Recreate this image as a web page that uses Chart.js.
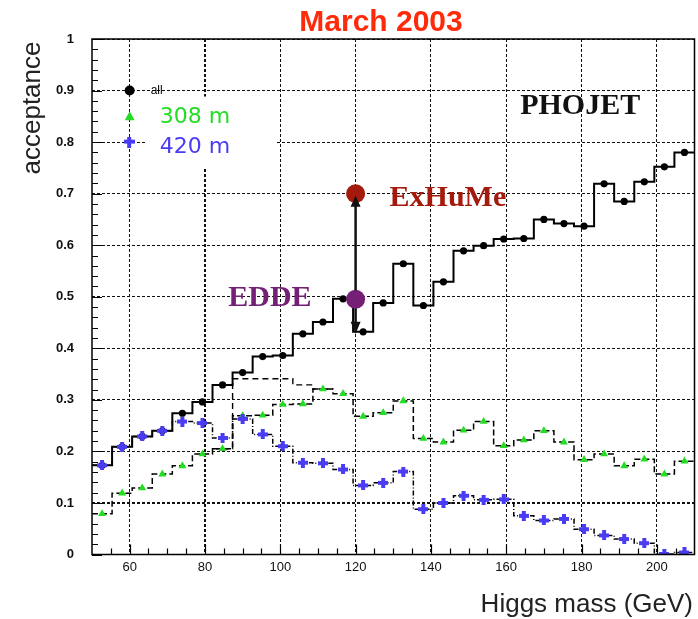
<!DOCTYPE html>
<html>
<head>
<meta charset="utf-8">
<script src="https://cdn.jsdelivr.net/npm/chart.js@4.4.0/dist/chart.umd.min.js"></script>
<style>
html, body { margin: 0; padding: 0; background: #fff; overflow: hidden; }
canvas { display: block; }
</style>
</head>
<body>
<canvas id="accChart" width="704" height="619"></canvas>
<script>
// Higgs mass bins (GeV): 30 bins from 50 to 210
const binCenters = [52.67, 58, 63.33, 68.67, 74, 79.33, 84.67, 90, 95.33, 100.67,
    106, 111.33, 116.67, 122, 127.33, 132.67, 138, 143.33, 148.67, 154,
    159.33, 164.67, 170, 175.33, 180.67, 186, 191.33, 196.67, 202, 207.33];
const binWidth = 5.333;

// acceptance, PHOJET
const accAll = [0.173, 0.209, 0.229, 0.240, 0.274, 0.296, 0.329, 0.353, 0.384, 0.386,
    0.428, 0.451, 0.496, 0.432, 0.488, 0.564, 0.483, 0.529, 0.589, 0.599,
    0.612, 0.613, 0.650, 0.642, 0.637, 0.719, 0.685, 0.723, 0.752, 0.780];
const acc308 = [0.079, 0.119, 0.129, 0.156, 0.172, 0.195, 0.205, 0.269, 0.270, 0.291,
    0.292, 0.321, 0.312, 0.268, 0.275, 0.298, 0.225, 0.218, 0.241, 0.258,
    0.211, 0.222, 0.240, 0.218, 0.184, 0.195, 0.172, 0.185, 0.156, 0.181];
const acc420 = [0.173, 0.209, 0.229, 0.240, 0.258, 0.255, 0.226, 0.263, 0.233, 0.210,
    0.178, 0.177, 0.165, 0.134, 0.139, 0.161, 0.088, 0.100, 0.114, 0.106,
    0.107, 0.075, 0.066, 0.069, 0.049, 0.037, 0.030, 0.022, 0.001, 0.004];
// extra dashed histogram (no markers)
const accDashed = [null, null, null, null, null, null, 0.205, 0.341, 0.341, 0.341,
    0.329, 0.321, null, null, null, null, null, null, null, null,
    null, null, null, null, null, null, null, null, null, null];

const xTicks = [60, 80, 100, 120, 140, 160, 180, 200];
const yTicks = [0, 0.1, 0.2, 0.3, 0.4, 0.5, 0.6, 0.7, 0.8, 0.9, 1];

// other generators at 120 GeV
const modelNames = ['ExHuMe', 'EDDE'];
const modelMass = [120, 120];
const modelAcc = [0.70, 0.495];
const arrowDownTo = 0.428;

const legendLabels = ['all', '308 m', '420 m'];
const legendAcc = [0.9, 0.85, 0.8];

const RED_TITLE = '#ff2a0a';
const GREEN = '#22dd22';
const BLUE = '#4a3cf2';
const modelColors = ['#a41a0c', '#752077'];

function histo(vals) {
    // bin-edge points for a stepped line
    const pts = [];
    let last = null;
    vals.forEach((v, i) => {
        const lo = binCenters[i] - binWidth / 2;
        if (v === null) {
            if (last !== null) {
                pts.push({ x: lo, y: last });
                pts.push({ x: lo, y: null });
            }
            last = null;
            return;
        }
        pts.push({ x: lo, y: v });
        last = v;
    });
    if (last !== null) pts.push({ x: binCenters[vals.length - 1] + binWidth / 2, y: last });
    return pts;
}

function markers(vals) {
    return vals.map((v, i) => ({ x: binCenters[i], y: v }));
}

function plusMarker(color, size, t) {
    const c = document.createElement('canvas');
    c.width = size; c.height = size;
    const g = c.getContext('2d');
    const o = Math.floor((size - t) / 2);
    g.fillStyle = color;
    g.fillRect(0, o, size, t);
    g.fillRect(o, 0, t, size);
    return c;
}
const bluePlus = plusMarker(BLUE, 10, 4);
const bluePlusBig = plusMarker(BLUE, 11, 4);

const overlay = {
    id: 'overlay',
    beforeDatasetsDraw(chart) {
        const { ctx, chartArea: a, scales: { x, y } } = chart;
        ctx.save();
        // legend area (covers grid)
        const lx = x.getPixelForValue(60);
        ctx.fillStyle = '#fff';
        ctx.fillRect(lx + 17, y.getPixelForValue(legendAcc[0]) + 6, 130, 71);
        // inner tick marks
        ctx.strokeStyle = '#000';
        ctx.lineWidth = 1.2;
        ctx.beginPath();
        for (let k = 0; k <= 50; k++) {
            const py = Math.round(y.getPixelForValue(k * 0.02)) + 0.5;
            const len = k % 5 === 0 ? 10 : 6;
            ctx.moveTo(a.left, py); ctx.lineTo(a.left + len, py);
        }
        for (let m = 55; m <= 205; m += 5) {
            const px = Math.round(x.getPixelForValue(m)) + 0.5;
            const len = m % 20 === 0 ? 10 : 6;
            ctx.moveTo(px, a.bottom); ctx.lineTo(px, a.bottom - len);
        }
        ctx.stroke();
        ctx.restore();
    },
    afterDraw(chart) {
        const { ctx, chartArea: a, scales: { x, y } } = chart;
        ctx.save();
        // frame
        ctx.strokeStyle = '#000';
        ctx.lineWidth = 1.5;
        ctx.strokeRect(a.left, a.top, a.right - a.left, a.bottom - a.top);

        // arrow between EDDE and ExHuMe
        const ax = x.getPixelForValue(modelMass[0]);
        const yTop = y.getPixelForValue(modelAcc[0]);
        const yMid = y.getPixelForValue(modelAcc[1]);
        const yBot = y.getPixelForValue(arrowDownTo);
        ctx.strokeStyle = '#111';
        ctx.fillStyle = '#111';
        ctx.lineWidth = 2.5;
        ctx.beginPath();
        ctx.moveTo(ax, yMid - 9); ctx.lineTo(ax, yTop + 10);
        ctx.moveTo(ax, yMid + 9); ctx.lineTo(ax, yBot - 8);
        ctx.stroke();
        ctx.beginPath();
        ctx.moveTo(ax, yTop + 2); ctx.lineTo(ax - 5, yTop + 13); ctx.lineTo(ax + 5, yTop + 13); ctx.closePath();
        ctx.moveTo(ax, yBot); ctx.lineTo(ax - 5, yBot - 12); ctx.lineTo(ax + 5, yBot - 12); ctx.closePath();
        ctx.fill();

        // generator labels
        ctx.font = 'bold 30px "Liberation Serif"';
        ctx.textBaseline = 'alphabetic';
        ctx.fillStyle = modelColors[0];
        ctx.textAlign = 'left';
        ctx.fillText(modelNames[0], ax + 34, yTop + 12);
        ctx.fillStyle = modelColors[1];
        ctx.textAlign = 'right';
        ctx.fillText(modelNames[1], ax - 44, yMid + 7);
        ctx.fillStyle = '#111';
        ctx.textAlign = 'left';
        ctx.fillText('PHOJET', x.getPixelForValue(163.7), y.getPixelForValue(0.855));

        // legend
        const lx = x.getPixelForValue(60);
        const l0 = y.getPixelForValue(legendAcc[0]);
        const l1 = y.getPixelForValue(legendAcc[1]);
        const l2 = y.getPixelForValue(legendAcc[2]);
        ctx.fillStyle = '#000';
        ctx.beginPath(); ctx.arc(lx, l0, 5, 0, Math.PI * 2); ctx.fill();
        ctx.fillStyle = GREEN;
        ctx.beginPath(); ctx.moveTo(lx, l1 - 5); ctx.lineTo(lx - 5, l1 + 4); ctx.lineTo(lx + 5, l1 + 4); ctx.closePath(); ctx.fill();
        ctx.drawImage(bluePlusBig, lx - 5.5, l2 - 5.5);
        ctx.textAlign = 'left';
        ctx.textBaseline = 'middle';
        ctx.fillStyle = '#000';
        ctx.font = '12px "Liberation Sans"';
        ctx.fillText(legendLabels[0], lx + 21, l0);
        ctx.font = '22px "DejaVu Sans"';
        ctx.fillStyle = GREEN;
        ctx.fillText(legendLabels[1], lx + 30, l1 + 1);
        ctx.fillStyle = BLUE;
        ctx.fillText(legendLabels[2], lx + 30, l2 + 5);

        // titles
        ctx.fillStyle = RED_TITLE;
        ctx.font = 'bold 30px "Liberation Sans"';
        ctx.textAlign = 'center';
        ctx.textBaseline = 'alphabetic';
        ctx.fillText('March 2003', 381, 31);

        ctx.fillStyle = '#222';
        ctx.font = '26px "Liberation Sans"';
        ctx.textAlign = 'right';
        ctx.fillText('Higgs mass (GeV)', 693, 612);

        ctx.translate(33, 108);
        ctx.rotate(-Math.PI / 2);
        ctx.textAlign = 'center';
        ctx.textBaseline = 'middle';
        ctx.fillText('acceptance', 0, 0);
        ctx.restore();
    }
};

const stepLine = (vals, dash, width, order) => ({
    type: 'line',
    data: histo(vals),
    stepped: 'before',
    borderColor: '#000',
    borderWidth: width,
    borderDash: dash,
    pointRadius: 0,
    fill: false,
    order: order
});

const chart = new Chart(document.getElementById('accChart'), {
    data: {
        datasets: [
            // markers (drawn on top)
            { type: 'scatter', data: modelMass.map((m, i) => ({ x: m, y: modelAcc[i] })),
              pointRadius: 9.5, pointBackgroundColor: modelColors, pointBorderWidth: 0, order: 0 },
            { type: 'scatter', data: markers(acc420), pointStyle: bluePlus, order: 1 },
            { type: 'scatter', data: markers(acc308), pointStyle: 'triangle', pointRadius: 4.6,
              pointBackgroundColor: GREEN, pointBorderColor: GREEN, pointBorderWidth: 0, order: 2 },
            { type: 'scatter', data: markers(accAll), pointRadius: 3.6,
              pointBackgroundColor: '#000', pointBorderWidth: 0, order: 3 },
            // histograms
            stepLine(accAll, [], 2, 4),
            stepLine(accDashed, [6, 4], 1.4, 5),
            stepLine(acc308, [6, 3], 1.5, 6),
            stepLine(acc420, [5, 2, 1, 2], 1.5, 7)
        ]
    },
    options: {
        responsive: false,
        animation: false,
        layout: { padding: { top: 39, right: 2.4, left: 0, bottom: 0 } },
        plugins: { legend: { display: false }, tooltip: { enabled: false } },
        scales: {
            x: {
                type: 'linear', min: 50, max: 210,
                afterFit: s => { s.height = 64.5; },
                afterBuildTicks: s => { s.ticks = xTicks.map(v => ({ value: v })); },
                grid: {
                    color: '#111',
                    lineWidth: c => (c.tick && c.tick.value === 80 ? 2 : 1),
                    drawTicks: false
                },
                border: { display: false, dash: [3, 2] },
                ticks: { padding: 5, color: '#111', font: { family: 'Liberation Sans', size: 13 } }
            },
            y: {
                min: 0, max: 1,
                afterFit: s => { s.width = 92; },
                afterBuildTicks: s => { s.ticks = yTicks.map(v => ({ value: v })); },
                grid: {
                    color: '#111',
                    lineWidth: c => (c.tick && Math.abs(c.tick.value - 0.1) < 1e-6 ? 2 : 1),
                    drawTicks: false
                },
                border: { display: false, dash: [3, 2] },
                ticks: {
                    padding: 18, color: '#111',
                    font: { family: 'Liberation Sans', size: 13, weight: 'bold' },
                    callback: v => (v === 0 || v === 1 ? String(v) : v.toFixed(1))
                }
            }
        }
    },
    plugins: [overlay]
});
</script>
</body>
</html>
